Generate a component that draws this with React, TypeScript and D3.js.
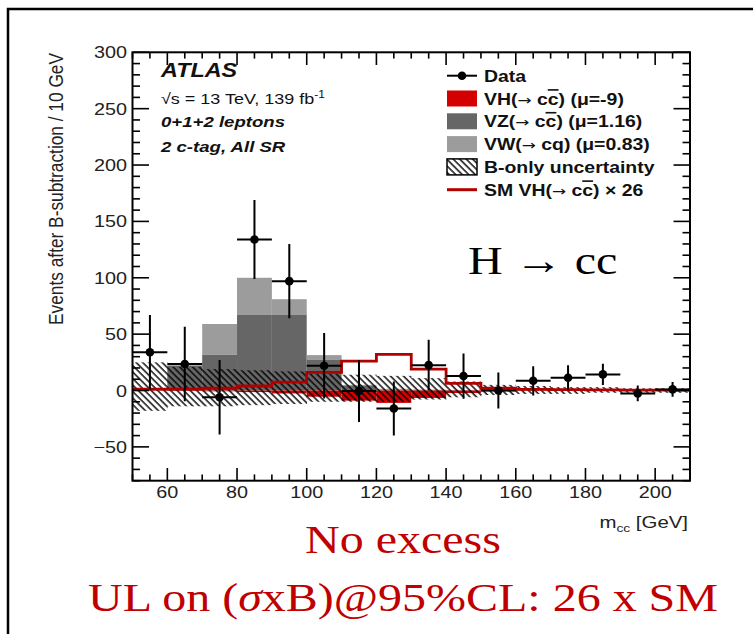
import React from "react";
import * as d3 from "d3";

// m_cc bins (10 GeV wide), given by their centres
const BIN_CENTERS = [55, 65, 75, 85, 95, 105, 115, 125, 135, 145, 155, 165, 175, 185, 195, 205];
const BIN_WIDTH = 10;

// Data after background subtraction, with symmetric errors
const DATA = [34, 23.5, -6, 134, 97, 22, -0.5, -16, 22.5, 12.8, 0, 8.6, 11.3, 14.3, -2.6, 1];
const DATA_ERR = [33, 33, 33, 35, 33, 29, 27.5, 24, 22.5, 20, 16, 13, 11, 9.5, 7, 6.5];

// Fitted contributions
const VZ = [0, 22, 32, 67, 67, 27.6, 4, 1, 0.5, 0.3, 0.2, 0.1, 0.1, 0, 0, 0];
const VW = [0, 1, 27, 33, 14, 3.8, 1, 0.5, 0.3, 0.2, 0.1, 0.1, 0, 0, 0, 0];
const VH = [-0.4, -0.4, -0.7, -1.4, -2.6, -5.5, -9, -11, -6.6, -2.2, -0.7, -0.3, -0.3, -0.2, -0.1, -0.1];

// SM VH(cc) expectation scaled by 26
const SM26 = [1.2, 1.2, 2, 4, 7.5, 16, 26, 32, 19, 6.3, 2, 1, 0.8, 0.5, 0.4, 0.3];

// Background-only uncertainty band
const BAND_UP = [25, 21, 19, 18, 17, 15, 14, 13, 11, 8, 5, 4, 3, 3, 2, 2];
const BAND_DOWN = [-18, -14, -14, -13, -12, -10, -10, -10, -8, -6, -4, -3, -3, -2, -2, -2];

const X_TICKS = [60, 80, 100, 120, 140, 160, 180, 200];
const Y_TICKS = [-50, 0, 50, 100, 150, 200, 250, 300];

const SANS = "'Liberation Sans', Arial, Helvetica, sans-serif";
const SERIF = "'Liberation Serif', 'Times New Roman', serif";
const SX = 1.2; // horizontal text stretch

const COL_VH = "#d40000";
const COL_VZ = "#666666";
const COL_VW = "#9c9c9c";
const COL_SM = "#b00000";
const COL_NOTE = "#c00000";

function SText({ x, y, sx = SX, rotate = 0, children, ...rest }: any) {
  return (
    <text
      transform={`translate(${x},${y}) scale(${sx},1)${rotate ? ` rotate(${rotate})` : ""}`}
      {...rest}
    >
      {children}
    </text>
  );
}

function Cbar() {
  return <tspan style={{ textDecoration: "overline" }}>c</tspan>;
}

function Arrow() {
  return (
    <tspan fontWeight="normal" fontSize={14} fontFamily="'DejaVu Sans', sans-serif">
      →
    </tspan>
  );
}

export default function App() {
  const x = d3.scaleLinear().domain([50, 210]).range([132.5, 690]);
  const y = d3.scaleLinear().domain([-80, 300]).range([480.7, 52.3]);
  const [x0, x1] = x.range();
  const [yb, yt] = y.range();

  const lo = (c: number) => x(c - BIN_WIDTH / 2);
  const hi = (c: number) => x(c + BIN_WIDTH / 2);

  const smPts: [number, number][] = BIN_CENTERS.map((c, i) => [c - BIN_WIDTH / 2, SM26[i]]);
  smPts.push([BIN_CENTERS[BIN_CENTERS.length - 1] + BIN_WIDTH / 2, SM26[SM26.length - 1]]);
  const smLine = d3
    .line<[number, number]>()
    .x((d) => x(d[0]))
    .y((d) => y(d[1]))
    .curve(d3.curveStepAfter)(smPts) as string;

  const xMinor = d3.range(50, 211, 5);
  const yMinor = d3.range(-80, 301, 10);
  const fmt = d3.format("d");

  const legendX = 447;
  const legendRows = [75.7, 98.5, 121.3, 144.1, 166.9, 189.7];

  return (
    <svg
      width={753}
      height={634}
      style={{ position: "absolute", left: 0, top: 0, background: "#fff" }}
    >
      <defs>
        <pattern
          id="hatch"
          width={4.6}
          height={4.6}
          patternUnits="userSpaceOnUse"
          patternTransform="rotate(-45)"
        >
          <line x1={1} y1={-1} x2={1} y2={6} stroke="#000" strokeWidth={1.4} />
        </pattern>
        <clipPath id="plot">
          <rect x={x0} y={yt} width={x1 - x0} height={yb - yt} />
        </clipPath>
      </defs>

      <rect x={0} y={0} width={753} height={634} fill="#fff" />
      <rect x={8} y={9} width={780} height={660} fill="none" stroke="#000" strokeWidth={2.5} />

      <g clipPath="url(#plot)">
        {/* stacked contributions */}
        {BIN_CENTERS.map((c, i) => (
          <g key={`s${c}`}>
            {VZ[i] > 0 && (
              <rect x={lo(c)} width={hi(c) - lo(c)} y={y(VZ[i])} height={y(0) - y(VZ[i])} fill={COL_VZ} />
            )}
            {VW[i] > 0 && (
              <rect
                x={lo(c)}
                width={hi(c) - lo(c)}
                y={y(VZ[i] + VW[i])}
                height={y(VZ[i]) - y(VZ[i] + VW[i])}
                fill={COL_VW}
              />
            )}
            <rect x={lo(c)} width={hi(c) - lo(c)} y={y(0)} height={y(VH[i]) - y(0)} fill={COL_VH} />
          </g>
        ))}

        {/* background-only uncertainty */}
        {BIN_CENTERS.map((c, i) => (
          <rect
            key={`b${c}`}
            x={lo(c)}
            width={hi(c) - lo(c) + 0.3}
            y={y(BAND_UP[i])}
            height={y(BAND_DOWN[i]) - y(BAND_UP[i])}
            fill="url(#hatch)"
          />
        ))}

        {/* scaled SM expectation */}
        <path d={smLine} fill="none" stroke={COL_SM} strokeWidth={2.8} />

        {/* data */}
        {BIN_CENTERS.map((c, i) => (
          <g key={`d${c}`} stroke="#000" strokeWidth={2}>
            <line x1={lo(c)} x2={hi(c)} y1={y(DATA[i])} y2={y(DATA[i])} />
            <line x1={x(c)} x2={x(c)} y1={y(DATA[i] + DATA_ERR[i])} y2={y(DATA[i] - DATA_ERR[i])} />
            <circle cx={x(c)} cy={y(DATA[i])} r={4.3} fill="#000" stroke="none" />
          </g>
        ))}
      </g>

      {/* axes frame and ticks */}
      <g stroke="#000" strokeWidth={1.6}>
        {xMinor.map((v) => {
          const len = X_TICKS.includes(v) ? 12.7 : 6.3;
          return (
            <g key={`xt${v}`}>
              <line x1={x(v)} x2={x(v)} y1={yb} y2={yb - len} />
              <line x1={x(v)} x2={x(v)} y1={yt} y2={yt + len} />
            </g>
          );
        })}
        {yMinor.map((v) => {
          const len = Y_TICKS.includes(v) ? 16.5 : 7.5;
          return (
            <g key={`yt${v}`}>
              <line x1={x0} x2={x0 + len} y1={y(v)} y2={y(v)} />
              <line x1={x1} x2={x1 - len} y1={y(v)} y2={y(v)} />
            </g>
          );
        })}
        <rect x={x0} y={yt} width={x1 - x0} height={yb - yt} fill="none" strokeWidth={2} />
      </g>

      {/* tick labels */}
      <g fontFamily={SANS} fontSize={16.5} fill="#222">
        {X_TICKS.map((v) => (
          <SText key={`xl${v}`} x={x(v)} y={497.5} textAnchor="middle">
            {fmt(v)}
          </SText>
        ))}
        {Y_TICKS.map((v) => (
          <SText key={`yl${v}`} x={127} y={y(v) + 6} textAnchor="end">
            {fmt(v)}
          </SText>
        ))}
      </g>

      {/* axis titles */}
      <g fontFamily={SANS} fill="#222">
        <SText x={63} y={53} rotate={-90} fontSize={17.3} textAnchor="end">
          Events after B-subtraction / 10 GeV
        </SText>
        <SText x={688} y={528} fontSize={17} textAnchor="end">
          m<tspan fontSize={11.5} dy={4}>cc</tspan>
          <tspan dy={-4}> [GeV]</tspan>
        </SText>
      </g>

      {/* experiment labels */}
      <g fontFamily={SANS} fill="#111">
        <SText x={161} y={77} fontSize={19.5} fontWeight="bold" fontStyle="italic">
          ATLAS
        </SText>
        <SText x={161} y={104} fontSize={15}>
          √s = 13 TeV, 139 fb<tspan fontSize={10} dy={-6}>-1</tspan>
        </SText>
        <SText x={161} y={127} fontSize={15.5} fontWeight="bold" fontStyle="italic">
          0+1+2 leptons
        </SText>
        <SText x={161} y={152} fontSize={15.5} fontWeight="bold" fontStyle="italic">
          2 c-tag, All SR
        </SText>
      </g>

      {/* legend */}
      <g fontFamily={SANS} fontSize={16.2} fontWeight="bold" fill="#111">
        <line x1={legendX} x2={legendX + 30} y1={legendRows[0]} y2={legendRows[0]} stroke="#000" strokeWidth={2} />
        <circle cx={legendX + 15} cy={legendRows[0]} r={4.3} fill="#000" />
        <SText x={484} y={legendRows[0] + 6}>Data</SText>

        <rect x={legendX} y={legendRows[1] - 8} width={30} height={16} fill={COL_VH} />
        <SText x={484} y={legendRows[1] + 6}>
          VH(<Arrow /> c<Cbar />) (μ=-9)
        </SText>

        <rect x={legendX} y={legendRows[2] - 8} width={30} height={16} fill={COL_VZ} />
        <SText x={484} y={legendRows[2] + 6}>
          VZ(<Arrow /> c<Cbar />) (μ=1.16)
        </SText>

        <rect x={legendX} y={legendRows[3] - 8} width={30} height={16} fill={COL_VW} />
        <SText x={484} y={legendRows[3] + 6}>
          VW(<Arrow /> cq) (μ=0.83)
        </SText>

        <rect x={legendX} y={legendRows[4] - 8} width={30} height={16} fill="url(#hatch)" stroke="#000" strokeWidth={1.5} />
        <SText x={484} y={legendRows[4] + 6}>B-only uncertainty</SText>

        <line x1={legendX} x2={legendX + 30} y1={legendRows[5]} y2={legendRows[5]} stroke={COL_SM} strokeWidth={3} />
        <SText x={484} y={legendRows[5] + 6}>
          SM VH(<Arrow /> c<Cbar />) × 26
        </SText>
      </g>

      {/* annotations */}
      <g fontFamily={SERIF}>
        <SText x={468} y={274} fontSize={40} fill="#000">
          H → cc
        </SText>
        <SText x={305} y={553} fontSize={40} fill={COL_NOTE}>
          No excess
        </SText>
        <SText x={88} y={611} fontSize={40} fill={COL_NOTE}>
          UL on (<tspan fontStyle="italic">σ</tspan>xB)@95%CL: 26 x SM
        </SText>
      </g>
    </svg>
  );
}
